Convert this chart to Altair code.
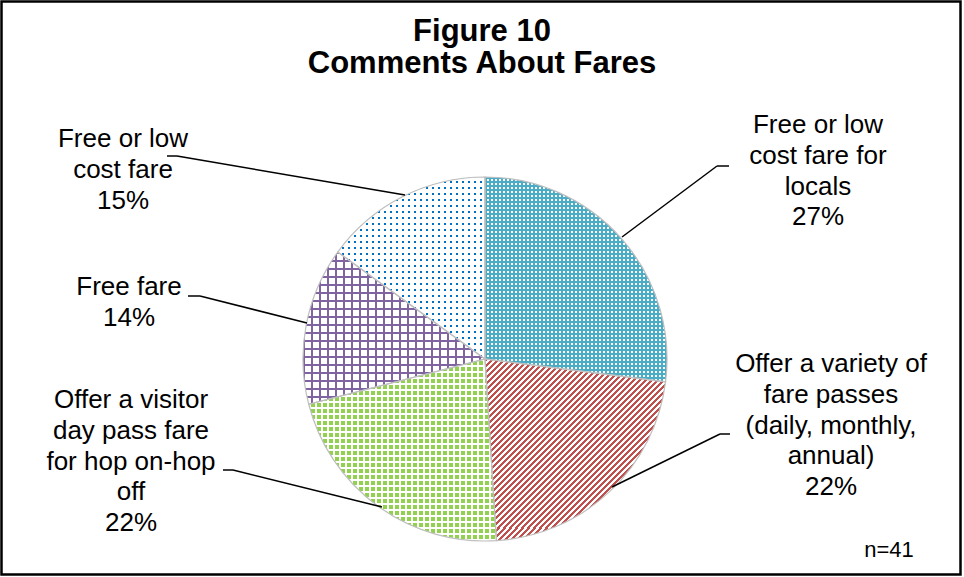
import math
import altair as alt
import pandas as pd

# ---------------- data ----------------
categories = [
    "Free or low cost fare for locals",
    "Offer a variety of fare passes (daily, monthly, annual)",
    "Offer a visitor day pass fare for hop on-hop off",
    "Free fare",
    "Free or low cost fare",
]
percents = [27, 22, 22, 14, 15]
label_text = [
    "Free or low\ncost fare for\nlocals",
    "Offer a variety of\nfare passes\n(daily, monthly,\nannual)",
    "Offer a visitor\nday pass fare\nfor hop on-hop\noff",
    "Free fare",
    "Free or low\ncost fare",
]
title_text = "Figure 10\nComments About Fares"
note_text = "n=41"

# ---------------- layout / style ----------------
W, H = 964, 577
CX, CY, R = 485, 359, 182
FONT = "Liberation Sans"
label_pos = [(818, 133), (831, 372), (131, 408), (129, 295), (123, 147)]
leader_paths = [
    [(622, 237), (717, 166), (729, 166)],
    [(612, 487), (720, 434), (730, 434)],
    [(382, 507), (233, 470), (223, 470)],
    [(307, 323), (200, 296), (188, 296)],
    [(405, 195), (177, 156), (167, 156)],
]
base_colors = ["#FFFFFF", "#FFFFFF", "#92D050", "#FFFFFF", "#0070C0"]
# overlay stripes: (colour, direction, pitch px, fraction covered)
patterns = [
    [("#4BACC6", "h", 4.0, 0.5), ("#4BACC6", "v", 4.0, 0.5)],
    [("#C0504D", "d", 6.0, 0.5)],
    [("#FFFFFF", "h", 6.0, 0.3), ("#FFFFFF", "v", 6.0, 0.3)],
    [("#8064A2", "h", 8.0, 0.25), ("#8064A2", "v", 8.0, 0.25)],
    [("#FFFFFF", "h", 6.0, 0.66), ("#FFFFFF", "v", 6.0, 0.66)],
]


def rgba(hexcol, a):
    h = hexcol.lstrip("#")
    r, g, b = int(h[0:2], 16), int(h[2:4], 16), int(h[4:6], 16)
    return f"rgba({r},{g},{b},{a})"


def slice_bbox(a0, a1):
    pts = [(0.0, 0.0)]
    for a in [a0, a1] + [c for c in (0, 90, 180, 270, 360) if a0 < c < a1]:
        t = math.radians(a)
        pts.append((R * math.sin(t), -R * math.cos(t)))
    xs = [p[0] for p in pts]
    ys = [p[1] for p in pts]
    return max(xs) - min(xs), max(ys) - min(ys)


def stripe_gradient(color, direction, pitch, frac, w, h):
    # pitch is in pixels; for diagonal stripes it is the horizontal period
    if direction == "h":
        per, coords = pitch / h, dict(x1=0, y1=0, x2=0, y2=1)
    elif direction == "v":
        per, coords = pitch / w, dict(x1=0, y1=0, x2=1, y2=0)
    else:
        per, coords = pitch / (2 * w), dict(x1=0, y1=0, x2=1, y2=1)
    on, off = color, rgba(color, 0)
    stops = []
    k = 0
    while k * per < 1:
        a = k * per
        b = min((k + frac) * per, 1.0)
        c = min((k + 1) * per, 1.0)
        stops += [
            {"offset": round(a, 6), "color": on},
            {"offset": round(b, 6), "color": on},
            {"offset": round(b, 6), "color": off},
            {"offset": round(c, 6), "color": off},
        ]
        k += 1
    return {"gradient": "linear", **coords, "stops": stops}


# slice bounding boxes (for pattern pitch only)
total = sum(percents)
bounds = []
acc = 0
for p in percents:
    a0 = acc / total * 360
    acc += p
    a1 = acc / total * 360
    bounds.append(slice_bbox(a0, a1))

slices = pd.DataFrame({"idx": list(range(len(categories))), "category": categories, "value": percents})
theta_scale = alt.Scale(domain=[0, 100], range=[0, 2 * math.pi])


def arc_layer(i=None, **mk):
    ch = alt.Chart(slices).transform_window(
        cum="sum(value)", sort=[alt.SortField("idx")], frame=[None, 0]
    ).transform_calculate(start="datum.cum - datum.value")
    if i is not None:
        ch = ch.transform_filter(alt.datum.idx == i)
    return ch.mark_arc(radius=R, **mk).encode(
        theta=alt.Theta("start:Q", scale=theta_scale),
        theta2=alt.Theta2("cum"),
        x=alt.value(CX),
        y=alt.value(CY),
    )


layers = []
for i in range(len(categories)):
    layers.append(arc_layer(i, fill=base_colors[i], strokeWidth=0))
    w, h = bounds[i]
    for (col, d, pitch, frac) in patterns[i]:
        layers.append(arc_layer(i, fill=stripe_gradient(col, d, pitch, frac, w, h), strokeWidth=0))
layers.append(arc_layer(None, fillOpacity=0, stroke="#BFBFBF", strokeWidth=1.2))

# leader lines
seg_rows = []
for i, path in enumerate(leader_paths):
    for (x1, y1), (x2, y2) in zip(path[:-1], path[1:]):
        seg_rows.append({"idx": i, "x": x1, "y": y1, "x2": x2, "y2": y2})
segs = pd.DataFrame(seg_rows)
layers.append(
    alt.Chart(segs).mark_rule(color="black", strokeWidth=1.5).encode(
        x=alt.X("x:Q", scale=None, axis=None),
        y=alt.Y("y:Q", scale=None, axis=None),
        x2="x2:Q",
        y2="y2:Q",
    )
)

# labels
labels = pd.DataFrame({
    "label": [f"{t}\n{p}%" for t, p in zip(label_text, percents)],
    "lx": [p[0] for p in label_pos],
    "ly": [p[1] for p in label_pos],
})
layers.append(
    alt.Chart(labels).mark_text(
        font=FONT, fontSize=26, align="center", baseline="alphabetic",
        lineBreak="\n", lineHeight=30.8, color="black",
    ).encode(
        x=alt.X("lx:Q", scale=None, axis=None),
        y=alt.Y("ly:Q", scale=None, axis=None),
        text="label:N",
    )
)

# title
layers.append(
    alt.Chart(alt.Data(values=[{"t": title_text}])).mark_text(
        font=FONT, fontSize=31, fontWeight="bold", align="center", baseline="alphabetic",
        lineBreak="\n", lineHeight=32, color="black",
    ).encode(x=alt.value(482), y=alt.value(41), text="t:N")
)

# sample size note
layers.append(
    alt.Chart(alt.Data(values=[{"t": note_text}])).mark_text(
        font=FONT, fontSize=22, align="center", baseline="alphabetic", color="black",
    ).encode(x=alt.value(889), y=alt.value(557), text="t:N")
)

# border
layers.append(
    alt.Chart(alt.Data(values=[{"t": 1}])).mark_rect(
        fillOpacity=0, stroke="black", strokeWidth=2.5
    ).encode(x=alt.value(1.5), x2=alt.value(960.5), y=alt.value(1.5), y2=alt.value(574.5))
)

chart = alt.layer(*layers).properties(
    width=W, height=H, autosize=alt.AutoSizeParams(type="none"), padding=0, background="white"
).configure_view(strokeWidth=0)

chart.save("out.html", embed_options={"renderer": "svg", "actions": False})
